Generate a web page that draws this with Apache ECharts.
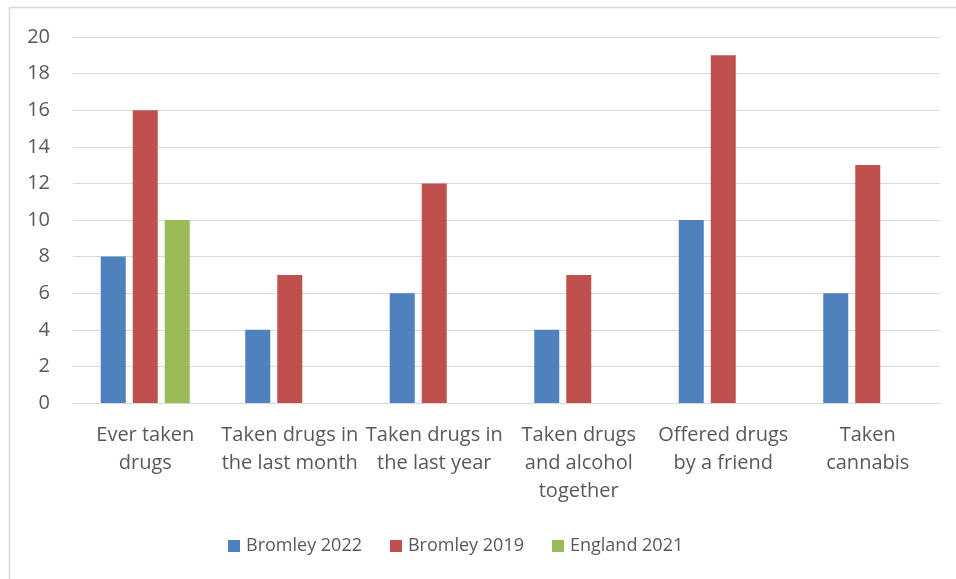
<!DOCTYPE html>
<html>
<head>
<meta charset="utf-8">
<script src="https://cdn.jsdelivr.net/npm/echarts@6/dist/echarts.min.js"></script>
<style>
  html, body { margin: 0; padding: 0; background: #ffffff; }
  #chart { width: 956px; height: 579px; }
</style>
</head>
<body>
<div id="chart"></div>
<script>
// Survey measures (percent of pupils)
const categories = [
  'Ever taken\ndrugs',
  'Taken drugs in\nthe last month',
  'Taken drugs in\nthe last year',
  'Taken drugs\nand alcohol\ntogether',
  'Offered drugs\nby a friend',
  'Taken\ncannabis'
];
const bromley2022 = [8, 4, 6, 4, 10, 6];
const bromley2019 = [16, 7, 12, 7, 19, 13];
const england2021 = [10, null, null, null, null, null];
const yTicks = [0, 2, 4, 6, 8, 10, 12, 14, 16, 18, 20];

const FONT = '"Open Sans", sans-serif';
const TEXT = '#595959';
const GRID = '#d9d9d9';

const chart = echarts.init(document.getElementById('chart'), null, { renderer: 'canvas' });

const barBase = { type: 'bar', barWidth: 25, barGap: '28%' };

chart.setOption({
  animation: false,
  backgroundColor: '#ffffff',
  graphic: [{
    type: 'rect',
    shape: { x: 9.5, y: 7.5, width: 1000, height: 700 },
    style: { fill: 'none', stroke: GRID, lineWidth: 1.5 },
    silent: true,
    z: -1
  }],
  grid: { left: 73, right: 16, top: 37, bottom: 176, containLabel: false },
  legend: {
    left: 228,
    top: 537,
    padding: 0,
    itemWidth: 12,
    itemHeight: 12,
    itemGap: 28,
    icon: 'rect',
    textStyle: { fontFamily: FONT, fontSize: 18, color: TEXT, padding: [0, 0, 0, 1] },
    data: ['Bromley 2022', 'Bromley 2019', 'England 2021']
  },
  xAxis: {
    type: 'category',
    data: categories,
    axisLine: { show: true, lineStyle: { color: GRID, width: 1 } },
    axisTick: { show: false },
    axisLabel: {
      interval: 0,
      margin: 18,
      fontFamily: FONT,
      fontSize: 20,
      lineHeight: 28,
      color: TEXT,
      align: 'center'
    }
  },
  yAxis: {
    type: 'value',
    min: yTicks[0],
    max: yTicks[yTicks.length - 1],
    interval: 2,
    axisLine: { show: false },
    axisTick: { show: false },
    splitLine: { lineStyle: { color: GRID, width: 1 } },
    axisLabel: {
      margin: 23,
      fontFamily: FONT,
      fontSize: 20,
      color: TEXT
    }
  },
  series: [
    Object.assign({ name: 'Bromley 2022', data: bromley2022, itemStyle: { color: '#4F81BD' } }, barBase),
    Object.assign({ name: 'Bromley 2019', data: bromley2019, itemStyle: { color: '#C0504D' } }, barBase),
    Object.assign({ name: 'England 2021', data: england2021, itemStyle: { color: '#9BBB59' } }, barBase)
  ]
});
</script>
</body>
</html>
